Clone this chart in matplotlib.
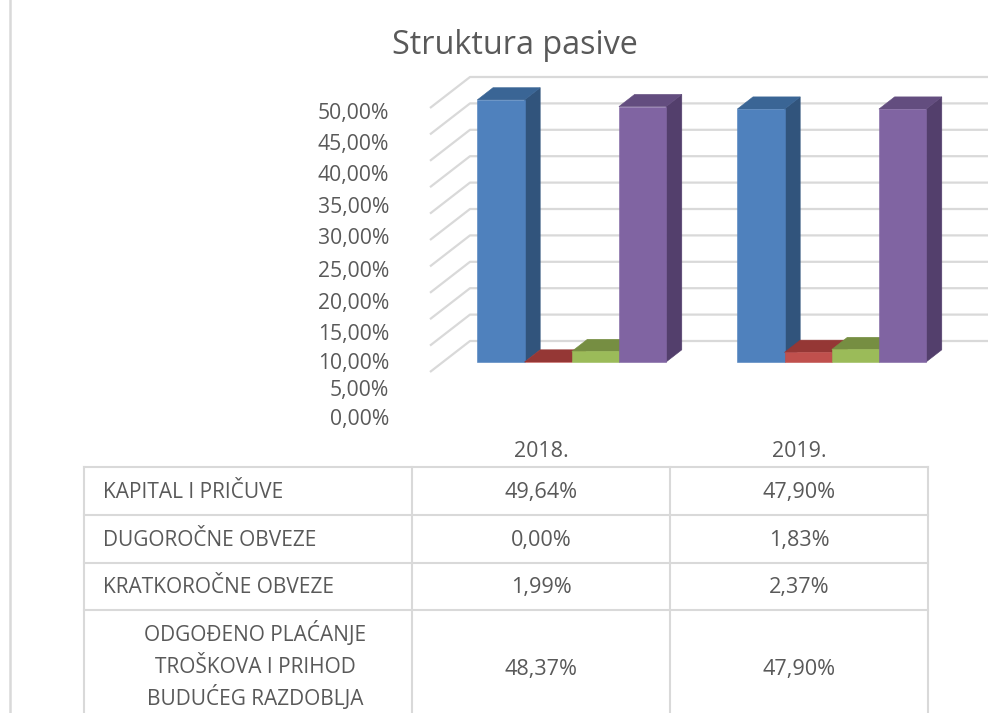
import matplotlib
matplotlib.use('Agg')
import matplotlib.pyplot as plt
from matplotlib.patches import Polygon

plt.rcParams['font.family'] = ['Open Sans', 'DejaVu Sans']

W, H = 1008, 713
years = ['2018.', '2019.']
names = ['KAPITAL I PRIČUVE', 'DUGOROČNE OBVEZE', 'KRATKOROČNE OBVEZE',
         'ODGOĐENO PLAĆANJE\nTROŠKOVA I PRIHOD\nBUDUĆEG RAZDOBLJA']
kapital = [49.64, 47.90]
dugorocne = [0.00, 1.83]
kratkorocne = [1.99, 2.37]
odgodeno = [48.37, 47.90]
series = [kapital, dugorocne, kratkorocne, odgodeno]
grid_values = [0, 5, 10, 15, 20, 25, 30, 35, 40, 45, 50]
tick_labels = ['0,00%', '5,00%', '10,00%', '15,00%', '20,00%', '25,00%',
               '30,00%', '35,00%', '40,00%', '45,00%', '50,00%']
# labels are not evenly spaced in the original, pixel rows
tick_rows = [425, 396, 369, 340, 309, 277, 244, 213, 181, 150, 119]

front = ['#4F81BD', '#C0504D', '#9BBB59', '#8064A2']
side = ['#31547C', '#7E3331', '#66793A', '#533F6C']
top = ['#3A6595', '#953735', '#768E42', '#634D7F']
grey = '#D9D9D9'
text_c = '#595959'

fig = plt.figure(figsize=(W / 100, H / 100), dpi=100)

# bar axes: x in groups, y in percent
px_x = 260.0     # px per group
px_y = 5.28      # px per percent
x0 = 571.7
y0 = 362.0
ax = fig.add_axes([0, 0, 1, 1])
ax.set_xlim(-x0 / px_x, (W - x0) / px_x)
ax.set_ylim(-(H - y0) / px_y, y0 / px_y)
ax.axis('off')

# walls
wall_dx, wall_dy = 40 / px_x, 31 / px_y
back_y = 21 / px_y
left_x = (470 - x0) / px_x
right_x = (988 - x0) / px_x
for v in grid_values:
    ax.plot([left_x - wall_dx, left_x, right_x],
            [v + back_y - wall_dy, v + back_y, v + back_y],
            color=grey, lw=1.6, zorder=1, solid_capstyle='butt')

# bars
bw = 47.2 / px_x
dx, dy = 15.7 / px_x, 12.2 / px_y
for g in range(len(years)):
    for s in range(len(series)):
        v = series[s][g]
        l = g + (s - 2) * bw
        r = l + bw
        ax.add_patch(Polygon([(r, 0), (r + dx, dy), (r + dx, v + dy), (r, v)],
                             fc=side[s], ec=side[s], lw=0.4, zorder=3 + s))
        ax.add_patch(Polygon([(l, v), (r, v), (r + dx, v + dy), (l + dx, v + dy)],
                             fc=top[s], ec=top[s], lw=0.4, zorder=3 + s))
        ax.bar(l, v, width=bw, align='edge', color=front[s], ec=front[s], lw=0.4, zorder=3 + s)

# page coordinates for table and labels
pg = fig.add_axes([0, 0, 1, 1])
pg.set_xlim(0, W)
pg.set_ylim(H, 0)
pg.axis('off')
pg.patch.set_alpha(0)

pg.text(515, 54, 'Struktura pasive', fontsize=23.3, color=text_c, ha='center', va='baseline')
for lab, row in zip(tick_labels, tick_rows):
    pg.text(389, row, lab, fontsize=15.2, color=text_c, ha='right', va='baseline')

col_x = [84, 412, 670, 928]
row_y = [467, 515, 562.5, 610]
for y in row_y:
    pg.plot([col_x[0], col_x[-1]], [y, y], color=grey, lw=1.5)
for x in col_x:
    pg.plot([x, x], [row_y[0], H], color=grey, lw=1.5)
pg.plot([10, 10], [0, H], color=grey, lw=1.8)

col_c = [541, 799]
text_rows = [498, 546, 593, 675]
for i, y in enumerate(years):
    pg.text(col_c[i], 457, y, fontsize=15.4, color=text_c, ha='center', va='baseline')
for n, name in enumerate(names):
    if '\n' in name:
        for k, line in enumerate(name.split('\n')):
            pg.text(255, 641 + k * 32, line, fontsize=15, color=text_c, ha='center', va='baseline')
    else:
        pg.text(103, text_rows[n], name, fontsize=15, color=text_c, ha='left', va='baseline')
    for g in range(len(years)):
        pg.text(col_c[g], text_rows[n], f'{series[n][g]:.2f}%'.replace('.', ','),
                fontsize=15.6, color=text_c, ha='center', va='baseline')

fig.savefig('out.png', dpi=100)
